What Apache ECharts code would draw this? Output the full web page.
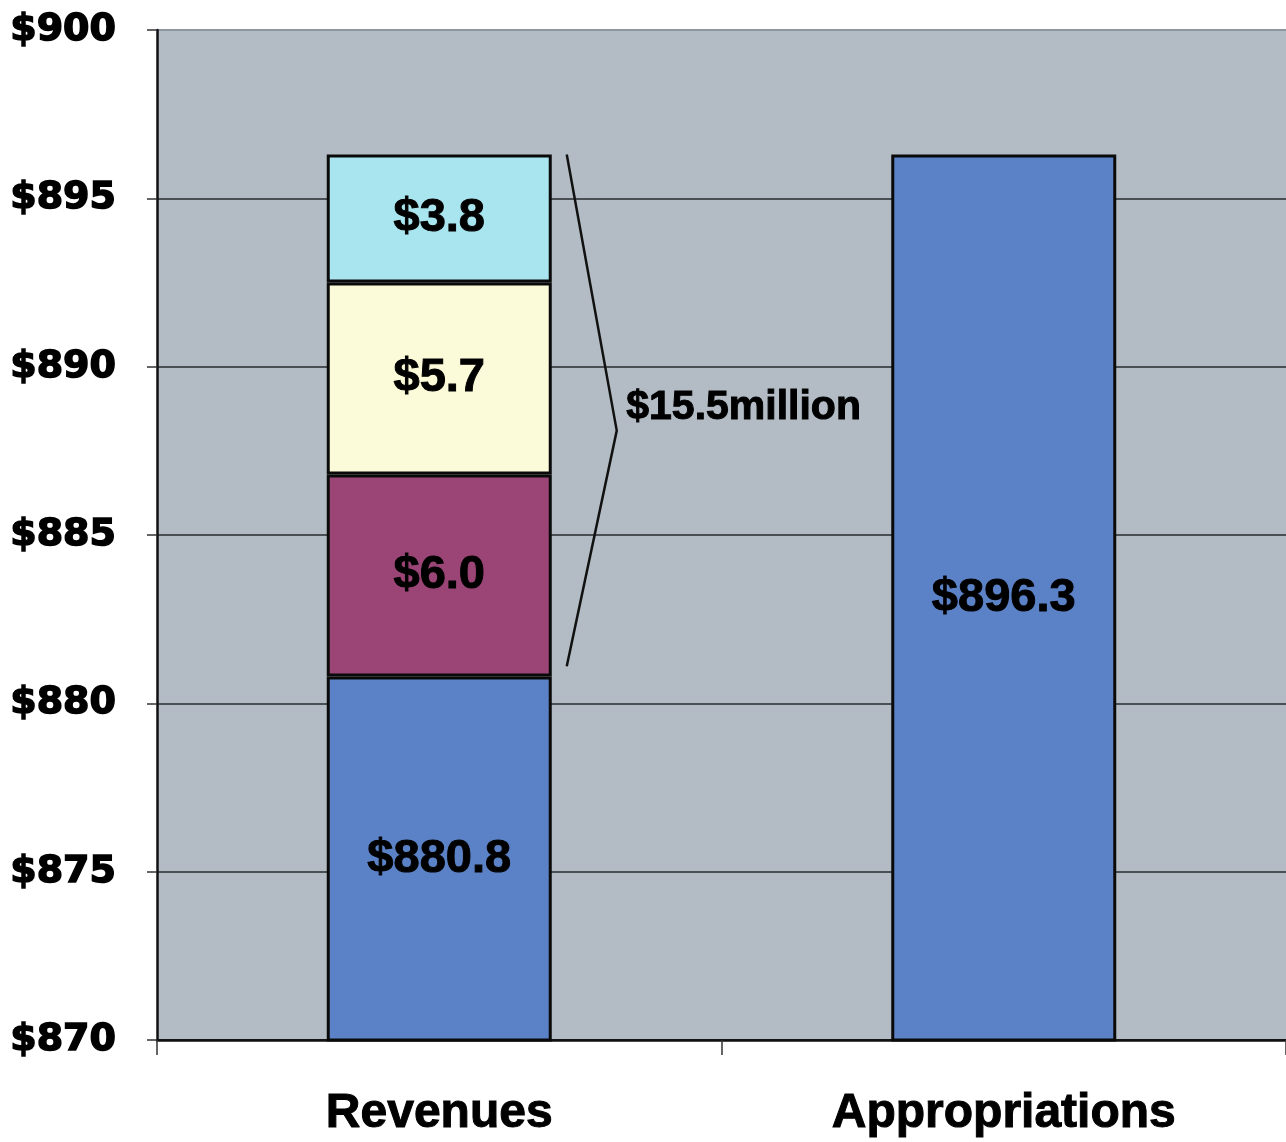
<!DOCTYPE html>
<html>
<head>
<meta charset="utf-8">
<script src="https://cdn.jsdelivr.net/npm/echarts@6/dist/echarts.min.js"></script>
<style>
  html, body { margin: 0; padding: 0; background: #fff; }
  #main { width: 1286px; height: 1142px; }
</style>
</head>
<body>
<div id="main"></div>
<script>
// data (millions of dollars)
var categories = ['Revenues', 'Appropriations'];
var baseValues = [880.8, 896.3];
var part1 = [6.0, null];
var part2 = [5.7, null];
var part3 = [3.8, null];
var yTicks = [870, 875, 880, 885, 890, 895, 900];
var bracketRange = [881.1, 896.3]; // span the brace covers
var bracketText = '$15.5million';

var chartDom = document.getElementById('main');
var myChart = echarts.init(chartDom);

function barLabel(size) {
    return {
        show: true,
        position: 'inside',
        color: '#000',
        fontFamily: 'Liberation Sans',
        fontWeight: 'bold',
        fontSize: size,
        textBorderColor: '#000',
        textBorderWidth: 1,
        formatter: function (p) { return '$' + p.value.toFixed(1); }
    };
}

var option = {
    backgroundColor: '#fff',
    animation: false,
    grid: {
        left: 157,
        right: -3,
        top: 30,
        bottom: 102,
        show: true,
        backgroundColor: '#b3bcc4',
        borderWidth: 0
    },
    xAxis: {
        type: 'category',
        data: categories,
        axisLine: { lineStyle: { color: '#111', width: 2.5 } },
        axisTick: { show: true, length: 15, lineStyle: { color: '#333', width: 1.5 } },
        axisLabel: {
            margin: 50,
            color: '#000',
            fontFamily: 'Liberation Sans',
            fontWeight: 'bold',
            fontSize: 48,
            textBorderColor: '#000',
            textBorderWidth: 1
        }
    },
    yAxis: {
        type: 'value',
        min: yTicks[0],
        max: yTicks[yTicks.length - 1],
        interval: 5,
        axisLine: { show: true, lineStyle: { color: '#111', width: 2.5 } },
        axisTick: { show: true, length: 10, lineStyle: { color: '#333', width: 1.5 } },
        axisLabel: {
            margin: 41,
            color: '#000',
            fontFamily: 'DejaVu Sans',
            fontWeight: 'bold',
            fontSize: 38,
            textBorderColor: '#000',
            textBorderWidth: 1.5,
            formatter: function (v) { return '$' + v; }
        },
        splitLine: {
            show: true,
            lineStyle: {
                color: ['#222', '#4a4f54', '#4a4f54', '#4a4f54', '#4a4f54', '#4a4f54', '#8d969e'],
                width: 2
            }
        }
    },
    series: [
        {
            type: 'bar', stack: 'a', barWidth: 225,
            data: baseValues,
            itemStyle: { color: '#5b82c6', borderColor: '#0a0a0a', borderWidth: 3 },
            label: barLabel(47)
        },
        {
            type: 'bar', stack: 'a',
            data: part1,
            itemStyle: { color: '#9a4576', borderColor: '#0a0a0a', borderWidth: 3 },
            label: barLabel(47)
        },
        {
            type: 'bar', stack: 'a',
            data: part2,
            itemStyle: { color: '#fbfbd9', borderColor: '#0a0a0a', borderWidth: 3 },
            label: barLabel(47)
        },
        {
            type: 'bar', stack: 'a',
            data: part3,
            itemStyle: { color: '#a9e5ef', borderColor: '#0a0a0a', borderWidth: 3 },
            label: barLabel(47)
        }
    ]
};
option && myChart.setOption(option);

// brace beside the Revenues stack, positioned from the axis scales
function drawBracket() {
    var top = myChart.convertToPixel({ gridIndex: 0 }, [0, bracketRange[1]]);
    var bot = myChart.convertToPixel({ gridIndex: 0 }, [0, bracketRange[0]]);
    var mid = myChart.convertToPixel({ gridIndex: 0 }, [0, (bracketRange[0] + bracketRange[1]) / 2 - 0.6]);
    var barRight = top[0] + 225 / 2;
    var x0 = barRight + 15;
    var x1 = barRight + 65;
    myChart.setOption({
        graphic: [
            {
                type: 'polyline',
                shape: { points: [[x0, top[1]], [x1, mid[1]], [x0, bot[1]]] },
                style: { stroke: '#111', lineWidth: 2.5, fill: null },
                z: 10
            },
            {
                type: 'text',
                left: x1 + 9,
                top: mid[1] - 44,
                style: {
                    text: bracketText,
                    fill: '#000',
                    stroke: '#000',
                    lineWidth: 1,
                    font: 'bold 41px "Liberation Sans"'
                },
                z: 10
            }
        ]
    });
}
drawBracket();
</script>
</body>
</html>
